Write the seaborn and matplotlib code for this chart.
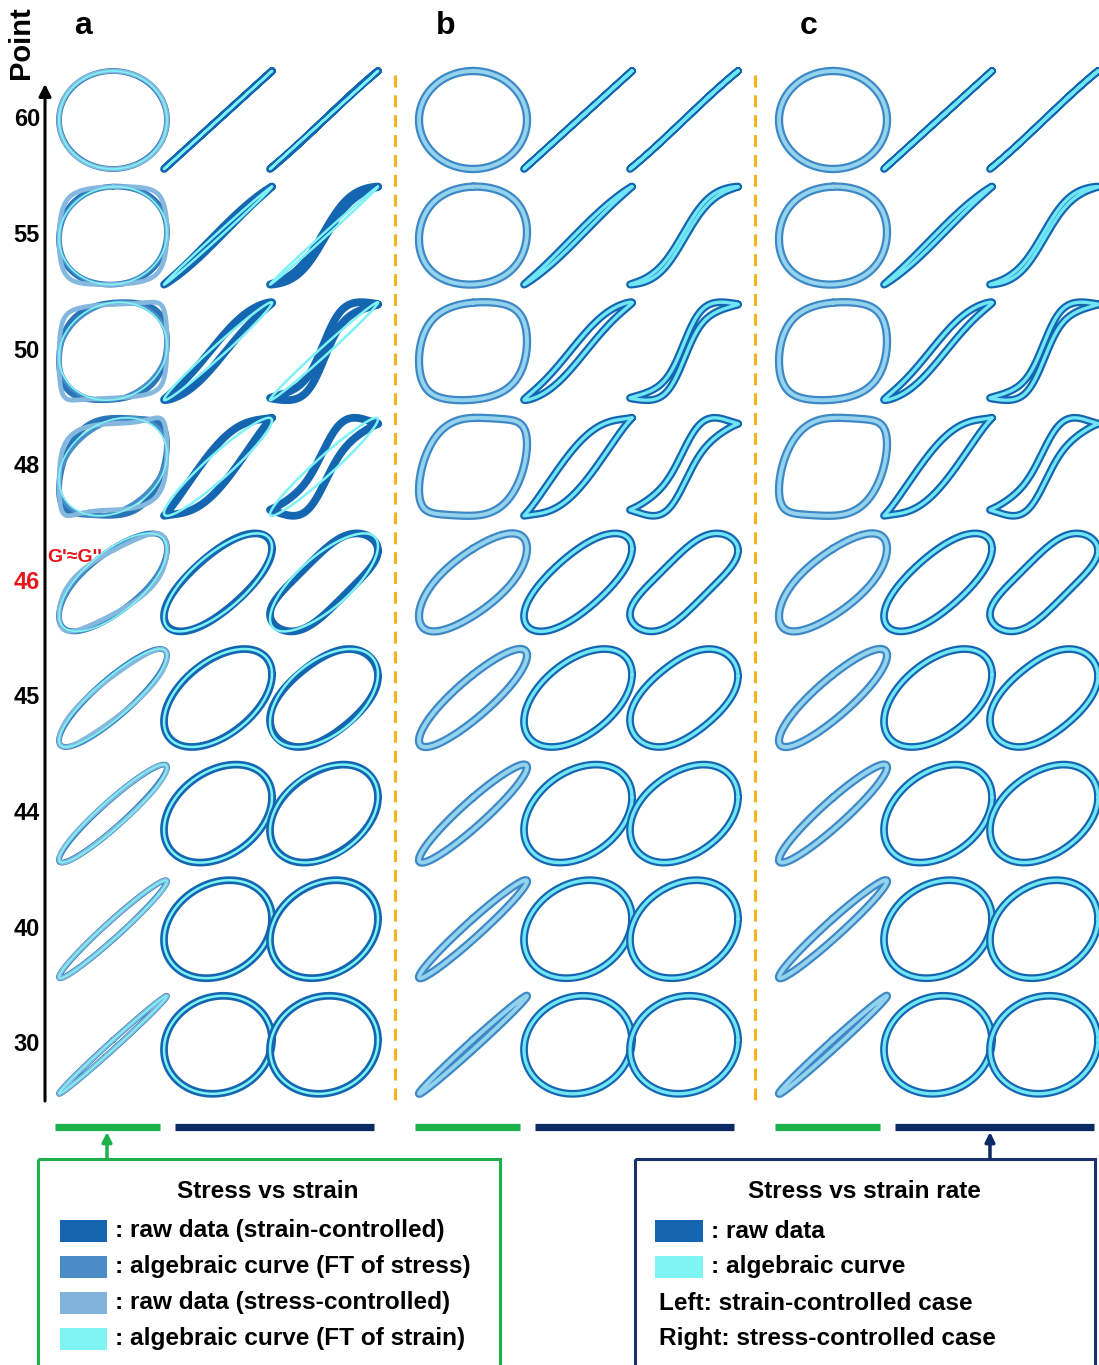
import numpy as np
import matplotlib
matplotlib.use("Agg")
import matplotlib.pyplot as plt
import seaborn as sns
from matplotlib.patches import Rectangle

sns.set_theme(style="white")
plt.rcParams['font.family'] = ['Liberation Sans', 'DejaVu Sans']
plt.rcParams['font.weight'] = 'bold'
plt.rcParams['text.color'] = 'black'

# ---------------- data ----------------
point_labels = ["60", "55", "50", "48", "46", "45", "44", "40", "30"]   # top -> bottom
highlight_point = "46"
panel_letters = ["a", "b", "c"]

# strain-controlled stress response: sigma = E1*g + E3*g^3 + V*tanh(K*gdot)/tanh(K)
E1_sc = [0.00, 0.04, 0.10, 0.05, 1.00, 1.00, 1.00, 1.00, 1.00]
E3_sc = [0.00, 0.03, 0.10, 0.42, 0.00, 0.00, 0.00, 0.00, 0.00]
V_sc  = [1.00, 1.00, 1.00, 1.00, 1.00, 0.55, 0.35, 0.22, 0.10]
K_sc  = [0.10, 0.60, 1.05, 0.80, 0.60, 0.40, 0.20, 0.10, 0.10]
# stress-controlled response
E1_st = [0.00, 0.03, 0.05, 0.05, 0.90, 1.00, 1.00, 1.00, 1.00]
E3_st = [0.00, 0.04, 0.12, 0.35, 0.12, 0.05, 0.00, 0.00, 0.00]
V_st  = [1.00, 1.00, 1.00, 1.00, 1.00, 0.55, 0.36, 0.22, 0.10]
K_st  = [0.40, 1.80, 2.80, 2.50, 1.30, 1.00, 0.70, 0.50, 0.30]

legend_left = [": raw data (strain-controlled)", ": algebraic curve (FT of stress)",
               ": raw data (stress-controlled)", ": algebraic curve (FT of strain)"]
legend_left_colors = ["#1565b0", "#4a8cc8", "#80b4da", "#7ff5f3"]
legend_right = [": raw data", ": algebraic curve"]
legend_right_colors = ["#1565b0", "#7ff5f3"]
legend_right_notes = ["Left: strain-controlled case", "Right: stress-controlled case"]

# ---------------- helpers ----------------
t = np.linspace(0, 2 * np.pi, 401)
ts = t[:-1]


def response(e1, e3, v, k):
    g = np.sin(t)
    gd = np.cos(t)
    s = e1 * g + e3 * g ** 3 + v * np.tanh(k * gd) / np.tanh(k)
    return g, gd, s


def first_harmonic(s):
    a = 2 * np.mean(s[:-1] * np.sin(ts))
    b = 2 * np.mean(s[:-1] * np.cos(ts))
    return a * np.sin(t) + b * np.cos(t)


def norm(u):
    return u / np.max(np.abs(u))


W, H = 1099, 1365
fig = plt.figure(figsize=(W / 100, H / 100), dpi=100)
bg = fig.add_axes([0, 0, 1, 1])
bg.set_xlim(0, W)
bg.set_ylim(H, 0)
bg.axis("off")

col_centers = [113, 218, 324]
panel_offset = 360
row_centers = [120 + i * 115.6 for i in range(9)]
cw, ch = 124, 114


def cell_axes(cx, cy):
    ax = fig.add_axes([(cx - cw / 2) / W, 1 - (cy + ch / 2) / H, cw / W, ch / H])
    ax.set_xlim(-cw / 2 / 54, cw / 2 / 54)
    ax.set_ylim(-ch / 2 / 49, ch / 2 / 49)
    ax.axis("off")
    ax.patch.set_alpha(0)
    return ax


def draw(ax, x, y, color, lw):
    sns.lineplot(x=norm(x), y=norm(y), sort=False, estimator=None, color=color,
                 linewidth=lw, ax=ax, clip_on=False,
                 solid_capstyle="round", solid_joinstyle="round")


for p in range(3):
    for r in range(9):
        g, gd, s_sc = response(E1_sc[r], E3_sc[r], V_sc[r], K_sc[r])
        _, _, s_st = response(E1_st[r], E3_st[r], V_st[r], K_st[r])
        cy = row_centers[r]
        for c in range(3):
            cx = col_centers[c] + p * panel_offset
            ax = cell_axes(cx, cy)
            if c == 0:
                if p == 0:
                    draw(ax, g, s_sc, "#2a74b8", 4.2)
                    draw(ax, g, first_harmonic(s_sc), "#4a8ec9", 3.0)
                    draw(ax, g, s_st, "#84b8de", 3.4)
                    draw(ax, g, first_harmonic(s_st), "#7ff4f4", 1.2)
                else:
                    draw(ax, g, s_sc, "#3e88c5", 6.0)
                    draw(ax, g, s_sc, "#93d3ee", 2.8)
            else:
                s = s_sc if c == 1 else s_st
                if p == 0:
                    draw(ax, gd, s, "#1466b0", 5.6)
                    draw(ax, gd, first_harmonic(s), "#7ff2f6", 1.8)
                else:
                    draw(ax, gd, s, "#1466b0", 5.6)
                    draw(ax, gd, s, "#70e6f5", 2.4)

# ---------------- annotations ----------------
for p, L in enumerate(panel_letters):
    bg.text(83 + p * 363, 26, L, fontsize=23, fontweight="bold", ha="center", va="center")

bg.text(21, 43, "Point", fontsize=21, fontweight="bold", rotation=90, ha="center", va="center")
bg.annotate("", xy=(45, 84), xytext=(45, 1101),
            arrowprops=dict(arrowstyle="-|>", lw=2.2, color="black", mutation_scale=18,
                            shrinkA=0, shrinkB=0))
for r, lab in enumerate(point_labels):
    bg.text(40, row_centers[r], lab, fontsize=17, fontweight="bold", ha="right", va="center",
            color="#e8141b" if lab == highlight_point else "black")
bg.text(47, 557, "G'\u2248G''", fontsize=14, fontweight="bold", ha="left", va="center",
        color="#e8141b")

for xd in [395, 755]:
    bg.plot([xd, xd], [75, 1100], color="#f4b41a", lw=2.2, linestyle=(0, (3.9, 2.6)))

for p in range(3):
    o = p * panel_offset
    bg.plot([55 + o, 160 + o], [1127, 1127], color="#1db14b", lw=5.2, solid_capstyle="butt")
    bg.plot([175 + o, 374 + o], [1127, 1127], color="#0b2a63", lw=5.2, solid_capstyle="butt")

bg.annotate("", xy=(107, 1132), xytext=(107, 1158),
            arrowprops=dict(arrowstyle="-|>", lw=2.5, color="#1db14b", mutation_scale=14,
                            shrinkA=0, shrinkB=0))
bg.annotate("", xy=(990, 1132), xytext=(990, 1158),
            arrowprops=dict(arrowstyle="-|>", lw=2.5, color="#0b2a63", mutation_scale=14,
                            shrinkA=0, shrinkB=0))

bg.add_patch(Rectangle((38, 1159), 462, 210, fill=False, edgecolor="#1db14b", lw=2.2))
bg.add_patch(Rectangle((635, 1159), 460, 210, fill=False, edgecolor="#1b2f6b", lw=2.2))

fs_leg = 17.6
bg.text(268, 1192, "Stress vs strain", fontsize=fs_leg, fontweight="bold", ha="center", va="center")
for i, (lab, colr) in enumerate(zip(legend_left, legend_left_colors)):
    yy = 1231 + i * 36
    bg.add_patch(Rectangle((60, yy - 11), 47, 22, color=colr, lw=0))
    bg.text(115, yy, lab, fontsize=fs_leg, fontweight="bold", ha="left", va="center")

bg.text(864, 1192, "Stress vs strain rate", fontsize=fs_leg, fontweight="bold", ha="center", va="center")
for i, (lab, colr) in enumerate(zip(legend_right, legend_right_colors)):
    yy = 1231 + i * 36
    bg.add_patch(Rectangle((655, yy - 11), 48, 22, color=colr, lw=0))
    bg.text(711, yy, lab, fontsize=fs_leg, fontweight="bold", ha="left", va="center")
for i, lab in enumerate(legend_right_notes):
    bg.text(659, 1303 + i * 36, lab, fontsize=fs_leg, fontweight="bold", ha="left", va="center")

fig.savefig("out.png", dpi=100)
